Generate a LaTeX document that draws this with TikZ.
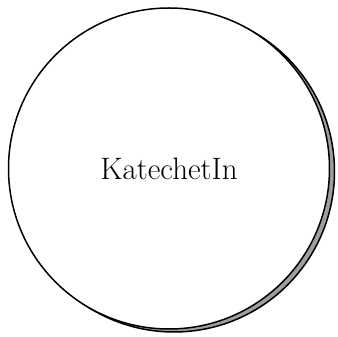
\documentclass[tikz,border=0pt]{standalone}
\usepackage{tikz}
\usetikzlibrary{shadows}
\tikzset{
  role/.style={circle,draw=black,line width=1.5pt,fill=white,minimum size=321pt,inner sep=0pt,
    font=\fontsize{31}{37}\selectfont,
    drop shadow={shadow xshift=5pt,shadow yshift=-3pt,opacity=1,fill=black!38,draw=black,line width=1.5pt}}
}

\begin{document}
\begin{tikzpicture}[x=1pt,y=1pt]
\useasboundingbox (0,0) rectangle (338,337);
\node[role] (katechetin) at (169,168.5) {KatechetIn};
\end{tikzpicture}
\end{document}
